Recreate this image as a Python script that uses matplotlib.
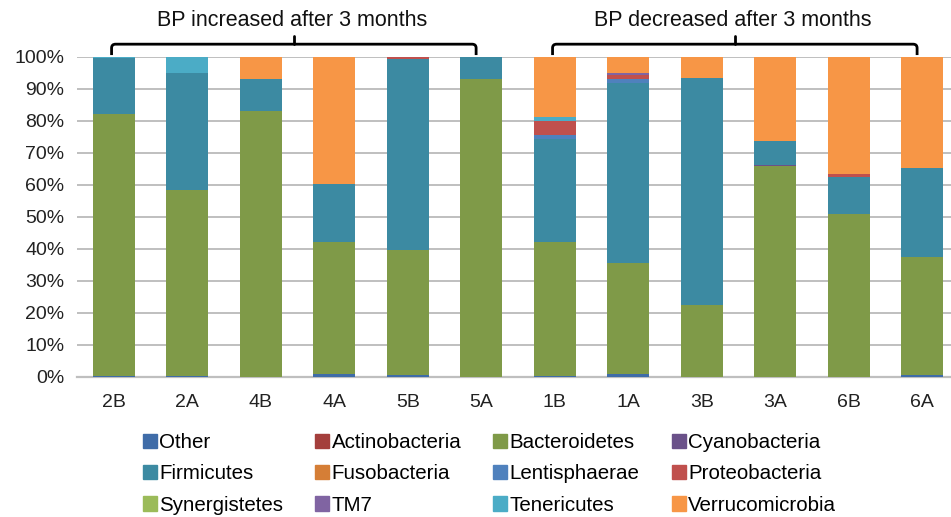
import matplotlib.pyplot as plt
from matplotlib.path import Path
from matplotlib.patches import PathPatch, Patch
from matplotlib.ticker import PercentFormatter

plt.rcParams['font.family'] = ['Liberation Sans', 'DejaVu Sans']

# relative abundance (%) of each phylum per stool sample
samples = ['2B', '2A', '4B', '4A', '5B', '5A', '1B', '1A', '3B', '3A', '6B', '6A']

other           = [0.3, 0.3, 0.0, 0.8, 0.6, 0.0, 0.4, 0.8, 0.0, 0.0, 0.0, 0.5]
actinobacteria  = [0.0, 0.0, 0.0, 0.0, 0.0, 0.0, 0.0, 0.0, 0.0, 0.0, 0.0, 0.0]
bacteroidetes   = [82.0, 58.1, 83.1, 41.4, 39.1, 93.1, 41.8, 34.8, 22.5, 65.9, 51.0, 37.1]
cyanobacteria   = [0.0, 0.0, 0.0, 0.0, 0.0, 0.0, 0.0, 0.0, 0.0, 0.3, 0.0, 0.0]
firmicutes      = [17.5, 36.7, 9.9, 18.1, 59.6, 6.9, 32.1, 56.2, 71.0, 7.6, 11.5, 27.7]
fusobacteria    = [0.0, 0.0, 0.0, 0.0, 0.0, 0.0, 0.0, 0.0, 0.0, 0.0, 0.0, 0.0]
lentisphaerae   = [0.0, 0.0, 0.0, 0.0, 0.0, 0.0, 1.3, 1.2, 0.0, 0.0, 0.0, 0.0]
proteobacteria  = [0.0, 0.0, 0.0, 0.0, 0.7, 0.0, 4.4, 1.5, 0.0, 0.0, 1.0, 0.0]
synergistetes   = [0.0, 0.0, 0.0, 0.0, 0.0, 0.0, 0.0, 0.0, 0.0, 0.0, 0.0, 0.0]
tm7             = [0.0, 0.0, 0.0, 0.0, 0.0, 0.0, 0.0, 0.5, 0.0, 0.0, 0.0, 0.0]
tenericutes     = [0.2, 4.9, 0.0, 0.0, 0.0, 0.0, 1.1, 0.0, 0.0, 0.0, 0.0, 0.0]
verrucomicrobia = [0.0, 0.0, 7.0, 39.7, 0.0, 0.0, 18.9, 5.0, 6.5, 26.2, 36.5, 34.7]

phyla = ['Other', 'Actinobacteria', 'Bacteroidetes', 'Cyanobacteria',
         'Firmicutes', 'Fusobacteria', 'Lentisphaerae', 'Proteobacteria',
         'Synergistetes', 'TM7', 'Tenericutes', 'Verrucomicrobia']
series = [other, actinobacteria, bacteroidetes, cyanobacteria, firmicutes,
          fusobacteria, lentisphaerae, proteobacteria, synergistetes, tm7,
          tenericutes, verrucomicrobia]
colors = ['#3F6CA8', '#A43F3C', '#7F9A48', '#6A5189', '#3C8AA2', '#D57E36',
          '#4F81BD', '#C0504D', '#9BBB59', '#8064A2', '#4BACC6', '#F79646']

groups = [('BP increased after 3 months', 0, 5), ('BP decreased after 3 months', 6, 11)]

fig = plt.figure(figsize=(9.51, 5.17), dpi=100)
ax = fig.add_axes([0.081, 0.2708, 0.9274, 0.619])

x = list(range(len(samples)))
bottom = [0.0] * len(samples)
for name, vals, col in zip(phyla, series, colors):
    ax.bar(x, vals, bottom=bottom, width=0.57, color=col, label=name, zorder=3)
    bottom = [b + v for b, v in zip(bottom, vals)]

ax.set_xlim(-0.5, len(samples) - 0.5)
ax.set_ylim(0, 100)
ax.set_yticks(range(0, 101, 10))
ax.yaxis.set_major_formatter(PercentFormatter(decimals=0))
ax.set_xticks(x)
ax.set_xticklabels(samples)
ax.tick_params(axis='both', length=0, labelsize=14, colors='#222222')
ax.tick_params(axis='y', pad=9)
ax.tick_params(axis='x', pad=12)
ax.grid(axis='y', color='#BFBFBF', linewidth=1.4, zorder=0)
for s in ['top', 'right', 'left']:
    ax.spines[s].set_visible(False)
ax.spines['bottom'].set_color('#BFBFBF')
ax.spines['bottom'].set_linewidth(1.6)

# brackets over the two groups of samples
yb, yh, yt = 100.6, 104.0, 106.5
dx, dy = 0.055, 1.2
for label, i0, i1 in groups:
    x0, x1 = i0 - 0.03, i1 - 0.07
    xc = (x0 + x1) / 2
    verts = [(x0, yb), (x0, yh - dy), (x0, yh), (x0 + dx, yh),
             (x1 - dx, yh), (x1, yh), (x1, yh - dy), (x1, yb)]
    codes = [Path.MOVETO, Path.LINETO, Path.CURVE3, Path.CURVE3,
             Path.LINETO, Path.CURVE3, Path.CURVE3, Path.LINETO]
    ax.add_patch(PathPatch(Path(verts, codes), fill=False, lw=2.0,
                           color='black', clip_on=False, zorder=5))
    ax.plot([xc, xc], [yh, yt], color='black', lw=2.0, clip_on=False,
            solid_capstyle='round', zorder=5)
    ax.text(xc - 0.03, 111.5, label, ha='center', va='center', fontsize=15.5,
            color='#111111', clip_on=False)

# legend laid out row by row, four entries per row
handles = [Patch(color=c) for c in colors]
order = [0, 4, 8, 1, 5, 9, 2, 6, 10, 3, 7, 11]
fig.legend([handles[i] for i in order], [phyla[i] for i in order],
           ncol=4, loc='upper left', bbox_to_anchor=(0.1504, 0.1625),
           frameon=False, fontsize=14.8, handlelength=0.68, handleheight=0.68,
           handletextpad=0.12, columnspacing=1.55, labelspacing=0.6,
           borderpad=0, borderaxespad=0)

fig.savefig('out.png', dpi=100)
